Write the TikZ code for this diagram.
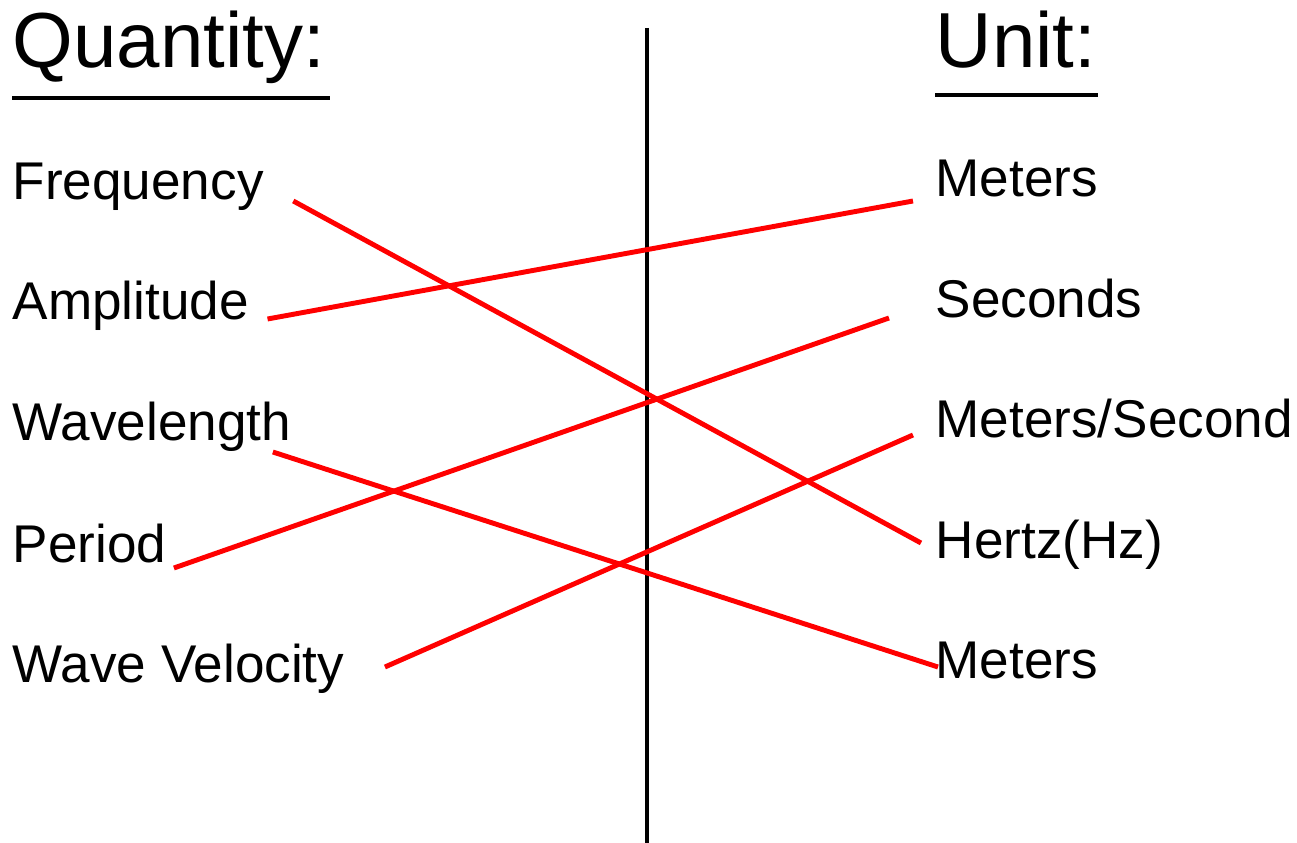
\documentclass[tikz,border=0pt]{standalone}
\usepackage{fontspec}
\setmainfont{Liberation Sans}
\usepackage{tikz}
\usetikzlibrary{positioning,calc}

\begin{document}
\begin{tikzpicture}[
    x=0.01cm, y=-0.01cm,
    head/.style={anchor=base west, inner sep=0pt, font=\fontsize{22.2}{26}\selectfont},
    item/.style={anchor=base west, inner sep=0pt, font=\fontsize{15.1}{18}\selectfont},
    underln/.style={line width=1.3pt},
    divider/.style={line width=1.3pt},
    link/.style={red, line width=1.4pt}
]
    \useasboundingbox (0,0) rectangle (1297,843);

    \node (qty) [head] at (12,68) {Quantity:};
    \node (unit) [head] at (935,68) {Unit:};
    \draw [underln] ([shift={(0,30)}]qty.base west) -- ([shift={(4,30)}]qty.base east);
    \draw [underln] ([shift={(0,27)}]unit.base west) -- ([shift={(1,27)}]unit.base east);

    \draw [divider] (647,28) -- (647,843);

    \node (freq) [item] at (12,200) {Frequency};
    \node (amp) [item] at (12,320) {Amplitude};
    \node (wave) [item] at (12,441) {Wavelength};
    \node (per) [item] at (12,562) {Period};
    \node (vel) [item] at (12,682) {Wave Velocity};

    \node (mtop) [item] at (935,197) {Meters};
    \node (sec) [item] at (935,318) {Seconds};
    \node (ms) [item] at (935,438) {Meters/Second};
    \node (hz) [item] at (935,558) {Hertz(Hz)};
    \node (mbot) [item] at (935,678) {Meters};

    \draw [link] ([shift={(29,1)}]freq.base east) -- ([shift={(-14,-15)}]hz.base west);
    \draw [link] ([shift={(18,-1)}]amp.base east) -- ([shift={(-22,4)}]mtop.base west);
    \draw [link] ([shift={(-19,11)}]wave.base east) -- ([shift={(3,-11)}]mbot.base west);
    \draw [link] ([shift={(7,6)}]per.base east) -- ([shift={(-46,0)}]sec.base west);
    \draw [link] ([shift={(40,-15)}]vel.base east) -- ([shift={(-22,-3)}]ms.base west);
\end{tikzpicture}
\end{document}
